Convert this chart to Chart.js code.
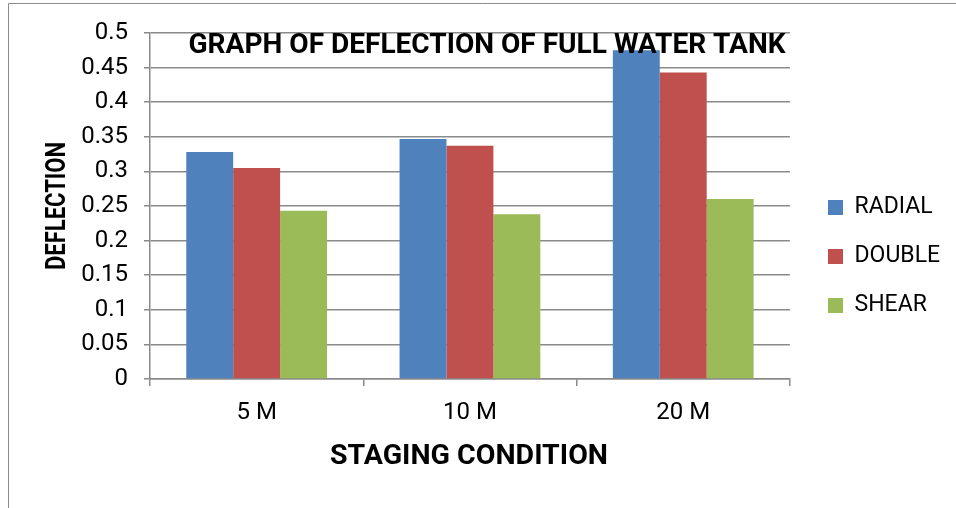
<!DOCTYPE html>
<html>
<head>
<meta charset="utf-8">
<script src="https://cdn.jsdelivr.net/npm/chart.js@4.4.1/dist/chart.umd.min.js"></script>
<style>
  html, body { margin: 0; padding: 0; background: #ffffff; }
  #wrap { position: relative; width: 956px; height: 508px; }
</style>
</head>
<body>
<div id="wrap"><canvas id="chart" width="956" height="508"></canvas></div>
<script>
// Staging conditions and deflection for each support type
const categories = ['5 M', '10 M', '20 M'];
const radial = [0.328, 0.347, 0.475];
const double = [0.305, 0.337, 0.443];
const shear  = [0.243, 0.238, 0.260];
const seriesNames = ['RADIAL', 'DOUBLE', 'SHEAR'];
const yTicks = [0, 0.05, 0.1, 0.15, 0.2, 0.25, 0.3, 0.35, 0.4, 0.45, 0.5];

const chartTitle = 'GRAPH OF DEFLECTION OF FULL WATER TANK';
const xTitle = 'STAGING CONDITION';
const yTitle = 'DEFLECTION';

const FONT = 'Roboto, "Liberation Sans", Arial, sans-serif';
const GRID = '#8a8a8a';

// Draw a bold heading squeezed to a given width (condensed look)
function drawCondensed(ctx, text, x, y, size, width, angle) {
  ctx.save();
  ctx.font = 'bold ' + size + 'px ' + FONT;
  ctx.fillStyle = '#000000';
  ctx.textAlign = 'center';
  ctx.textBaseline = 'alphabetic';
  const w = ctx.measureText(text).width;
  ctx.translate(x, y);
  if (angle) ctx.rotate(angle);
  ctx.scale(width / w, 1);
  ctx.fillText(text, 0, 0);
  ctx.restore();
}

// Outer frame of the chart object
const framePlugin = {
  id: 'frame',
  beforeDraw(chart) {
    const ctx = chart.ctx;
    ctx.save();
    ctx.fillStyle = '#ffffff';
    ctx.fillRect(0, 0, chart.width, chart.height);
    ctx.strokeStyle = '#8c8c8c';
    ctx.lineWidth = 1;
    ctx.beginPath();
    ctx.moveTo(8.5, chart.height);
    ctx.lineTo(8.5, 3.5);
    ctx.lineTo(chart.width, 3.5);
    ctx.stroke();
    ctx.restore();
  }
};

// Chart title over the plot, plus the two axis titles
const headings = {
  id: 'headings',
  afterDraw(chart) {
    const ctx = chart.ctx;
    const a = chart.chartArea;
    const midX = (a.left + a.right) / 2;
    const midY = (a.top + a.bottom) / 2;
    drawCondensed(ctx, chartTitle, a.left + 337, a.top + 20, 28, 597, 0);
    drawCondensed(ctx, xTitle, midX - 1, a.bottom + 85, 27, 278, 0);
    drawCondensed(ctx, yTitle, a.left - 85, midY, 27, 128, -Math.PI / 2);
  }
};

// Place the legend beside the plot area
const legendPlace = {
  id: 'legendPlace',
  afterLayout(chart) {
    const lg = chart.legend;
    if (!lg) return;
    const dx = 802 - lg.left;
    const dy = -14;
    lg.left += dx; lg.right += dx;
    lg.top += dy; lg.bottom += dy;
  }
};

const data = {
  labels: categories,
  datasets: [
    { label: seriesNames[0], data: radial, backgroundColor: '#4F81BD' },
    { label: seriesNames[1], data: double, backgroundColor: '#C0504D' },
    { label: seriesNames[2], data: shear,  backgroundColor: '#9BBB59' }
  ]
};

new Chart(document.getElementById('chart'), {
  type: 'bar',
  data,
  plugins: [framePlugin, headings, legendPlace],
  options: {
    responsive: false,
    animation: false,
    devicePixelRatio: 1,
    layout: { padding: { top: 33, left: 0, right: 18, bottom: 0 } },
    datasets: { bar: { categoryPercentage: 0.66, barPercentage: 1.0, borderWidth: 0 } },
    plugins: {
      title: { display: false },
      tooltip: { enabled: false },
      legend: {
        position: 'right',
        labels: {
          boxWidth: 15,
          boxHeight: 15,
          padding: 26,
          color: '#000000',
          font: { family: FONT, size: 23 }
        }
      }
    },
    scales: {
      x: {
        offset: true,
        afterFit(s) { s.height = 129; },
        grid: {
          offset: true,
          drawOnChartArea: false,
          drawTicks: true,
          tickLength: 7,
          color: GRID,
          lineWidth: 1.5
        },
        border: { display: true, color: GRID, width: 1.5 },
        ticks: {
          color: '#000000',
          padding: 13,
          font: { family: FONT, size: 24 }
        },
        title: { display: false }
      },
      y: {
        min: 0,
        max: 0.5,
        afterFit(s) { s.width = 150; },
        afterBuildTicks(s) { s.ticks = yTicks.map(v => ({ value: v })); },
        grid: {
          color: GRID,
          lineWidth: 1.5,
          drawTicks: true,
          tickLength: 6
        },
        border: { display: true, color: GRID, width: 1.5 },
        ticks: {
          color: '#000000',
          padding: 16,
          font: { family: FONT, size: 24 },
          callback: v => String(Number(v.toFixed(2)))
        },
        title: { display: false }
      }
    }
  }
});
</script>
</body>
</html>
